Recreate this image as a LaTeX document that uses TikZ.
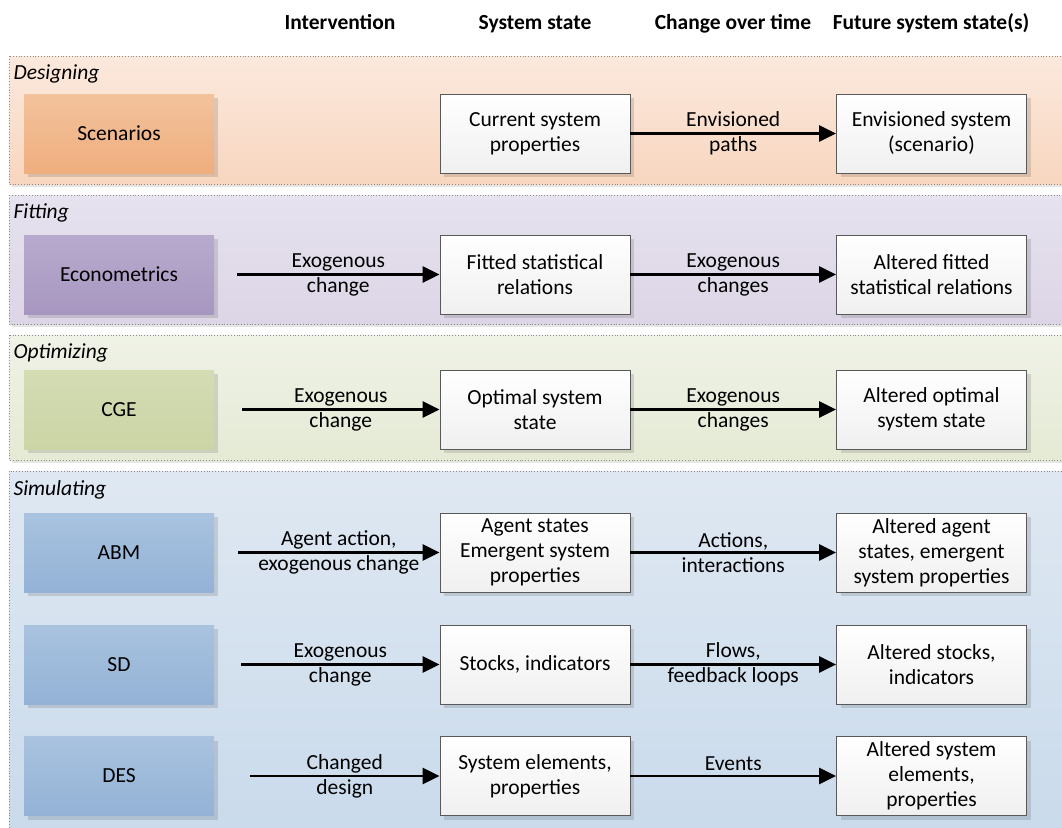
\documentclass[tikz,border=0pt]{standalone}
\usepackage{fontspec}
\setmainfont{Carlito}
\usetikzlibrary{arrows.meta,shadows}

\definecolor{designtop}{HTML}{FBE9DD}
\definecolor{designbot}{HTML}{F8D6BF}
\definecolor{scentop}{HTML}{F2C29C}
\definecolor{scenbot}{HTML}{EFAE7E}
\definecolor{fittop}{HTML}{E6E2EE}
\definecolor{fitbot}{HTML}{DCD5E6}
\definecolor{econtop}{HTML}{B8AACE}
\definecolor{econbot}{HTML}{A797C0}
\definecolor{opttop}{HTML}{EFF2E6}
\definecolor{optbot}{HTML}{E5EAD5}
\definecolor{cgetop}{HTML}{D4DCB4}
\definecolor{cgebot}{HTML}{CBD5A5}
\definecolor{simtop}{HTML}{DFE8F2}
\definecolor{simbot}{HTML}{C9DAEB}
\definecolor{simboxtop}{HTML}{A9C3DF}
\definecolor{simboxbot}{HTML}{93B2D6}

\begin{document}
\begin{tikzpicture}[x=1pt,y=-1pt,
  every node/.style={font=\fontsize{21.5}{25}\selectfont},
  panel/.style={draw=black!45, dotted, line width=0.8pt},
  panelshadow/.style={fill=black!10},
  method/.style={minimum width=190pt, minimum height=79pt, inner sep=0pt, align=center,
    drop shadow={shadow xshift=4pt, shadow yshift=-4pt, opacity=0.12, fill=black}},
  state/.style={method, draw=black!65, line width=0.8pt, top color=white, bottom color=black!6},
  flow/.style={line width=2.6pt, -{Triangle[length=17pt,width=16pt]}},
  flowlabel/.style={midway, align=center},
  head/.style={anchor=base, font=\fontsize{21.5}{25}\selectfont\bfseries},
  panellabel/.style={anchor=west, font=\fontsize{21.5}{25}\selectfont\itshape}]

  \useasboundingbox (0,0) rectangle (1062,827);
  \clip (0,0) rectangle (1062,827);

  % column headers
  \node[head] (hint) at (340,29) {Intervention};
  \node[head] (hstate) at (535,29) {System state};
  \node[head] (hchange) at (733,29) {Change over time};
  \node[head] (hfuture) at (931,29) {Future system state(s)};

  % panels
  \fill[panelshadow] (12,59) rectangle (1075,187);
  \draw[panel, top color=designtop, bottom color=designbot] (9,56) rectangle (1072,184);
  \fill[panelshadow] (12,198) rectangle (1075,327);
  \draw[panel, top color=fittop, bottom color=fitbot] (9,195) rectangle (1072,324);
  \fill[panelshadow] (12,338) rectangle (1075,463);
  \draw[panel, top color=opttop, bottom color=optbot] (9,335) rectangle (1072,460);
  \draw[panel, top color=simtop, bottom color=simbot] (9,471) rectangle (1072,840);

  \node[panellabel] (ldes) at (10,74) {Designing};
  \node[panellabel] (lfit) at (10,213) {Fitting};
  \node[panellabel] (lopt) at (10,353) {Optimizing};
  \node[panellabel] (lsim) at (10,490) {Simulating};

  % Designing
  \node[method, top color=scentop, bottom color=scenbot] (scen) at (119,133.5) {Scenarios};
  \node[state] (scennow) at (535,133.5) {Current system\\properties};
  \node[state] (scenfut) at (931.5,133.5) {Envisioned system\\(scenario)};
  \draw[flow] (scennow) -- (scenfut) node[flowlabel] {Envisioned\\paths};

  % Fitting
  \node[method, top color=econtop, bottom color=econbot] (econ) at (119,274.5) {Econometrics};
  \node[state] (econnow) at (535,274.5) {Fitted statistical\\relations};
  \node[state] (econfut) at (931.5,274.5) {Altered fitted\\statistical relations};
  \coordinate (econin) at (237,274.5);
  \draw[flow] (econin) -- (econnow) node[flowlabel] {Exogenous\\change};
  \draw[flow] (econnow) -- (econfut) node[flowlabel] {Exogenous\\changes};

  % Optimizing
  \node[method, top color=cgetop, bottom color=cgebot] (cge) at (119,409.5) {CGE};
  \node[state] (cgenow) at (535,409.5) {Optimal system\\state};
  \node[state] (cgefut) at (931.5,409.5) {Altered optimal\\system state};
  \coordinate (cgein) at (242,409.5);
  \draw[flow] (cgein) -- (cgenow) node[flowlabel] {Exogenous\\change};
  \draw[flow] (cgenow) -- (cgefut) node[flowlabel] {Exogenous\\changes};

  % Simulating
  \node[method, top color=simboxtop, bottom color=simboxbot] (abm) at (119,552.5) {ABM};
  \node[state] (abmnow) at (535,552.5) {Agent states\\Emergent system\\properties};
  \node[state] (abmfut) at (931.5,552.5) {Altered agent\\states, emergent\\system properties};
  \coordinate (abmin) at (238,552.5);
  \draw[flow] (abmin) -- (abmnow) node[flowlabel] {Agent action,\\exogenous change};
  \draw[flow] (abmnow) -- (abmfut) node[flowlabel] {Actions,\\interactions};

  \node[method, top color=simboxtop, bottom color=simboxbot] (sd) at (119,664.5) {SD};
  \node[state] (sdnow) at (535,664.5) {Stocks, indicators};
  \node[state] (sdfut) at (931.5,664.5) {Altered stocks,\\indicators};
  \coordinate (sdin) at (241,664.5);
  \draw[flow] (sdin) -- (sdnow) node[flowlabel] {Exogenous\\change};
  \draw[flow] (sdnow) -- (sdfut) node[flowlabel] {Flows,\\feedback loops};

  \node[method, top color=simboxtop, bottom color=simboxbot] (des) at (119,776) {DES};
  \node[state] (desnow) at (535,776) {System elements,\\properties};
  \node[state] (desfut) at (931.5,776) {Altered system\\elements,\\properties};
  \coordinate (desin) at (250,776);
  \draw[flow] (desin) -- (desnow) node[flowlabel] {Changed\\design};
  \draw[flow] (desnow) -- (desfut) node[midway, anchor=base, yshift=6pt] {Events};
\end{tikzpicture}
\end{document}
